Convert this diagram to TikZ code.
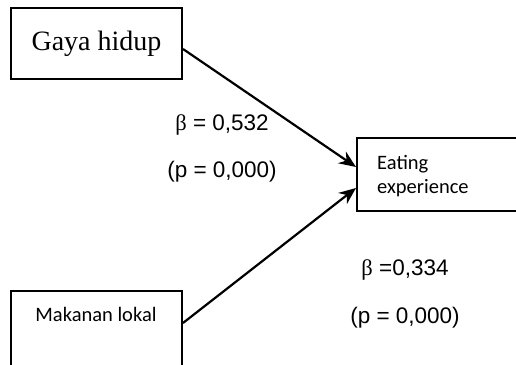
\documentclass[tikz,border=0pt]{standalone}
\usepackage{fontspec}
\setmainfont{Liberation Serif}
\newfontfamily\lsans{Liberation Sans}
\newfontfamily\carl{Carlito}
\usetikzlibrary{calc,arrows.meta}
\begin{document}
\begin{tikzpicture}[x=1pt,y=-1pt,
  box/.style={draw,line width=2pt,inner sep=0pt},
  conn/.style={line width=2.2pt,-{Stealth[length=17pt,width=14pt]}},
  stat/.style={font=\lsans\fontsize{22.5}{26}\selectfont,inner sep=0pt}]
\useasboundingbox (0,0) rectangle (516,364);
\node[box,minimum width=171pt,minimum height=71pt,font=\fontsize{28}{32}\selectfont] (gaya) at (96.5,43.5) {Gaya hidup};
\node[box,minimum width=171pt,minimum height=80pt] (mak) at (96.5,331) {};
\node[font=\carl\fontsize{20.5}{24}\selectfont,inner sep=0pt] (maktxt) at (96,314) {Makanan lokal};
\node[box,minimum width=165pt,minimum height=73pt] (eat) at (439.5,174.5) {};
\node[font=\carl\fontsize{20.5}{24}\selectfont,inner sep=0pt,anchor=west,align=left] (eattxt) at (377,176) {Eating\\experience};
\draw[conn] ($(gaya.east)+(0,5.5)$) -- ($(eat.west)+(0,-7.5)$);
\draw[conn] ($(mak.east)+(0,-8)$) -- ($(eat.west)+(0,13.5)$);
\node[stat] (b1) at (222,125) {{\rmfamily β} = 0,532};
\node[stat] (p1) at (222,172) {(p = 0,000)};
\node[stat] (b2) at (405,270) {{\rmfamily β} =0,334};
\node[stat] (p2) at (405,318) {(p = 0,000)};
\end{tikzpicture}
\end{document}
